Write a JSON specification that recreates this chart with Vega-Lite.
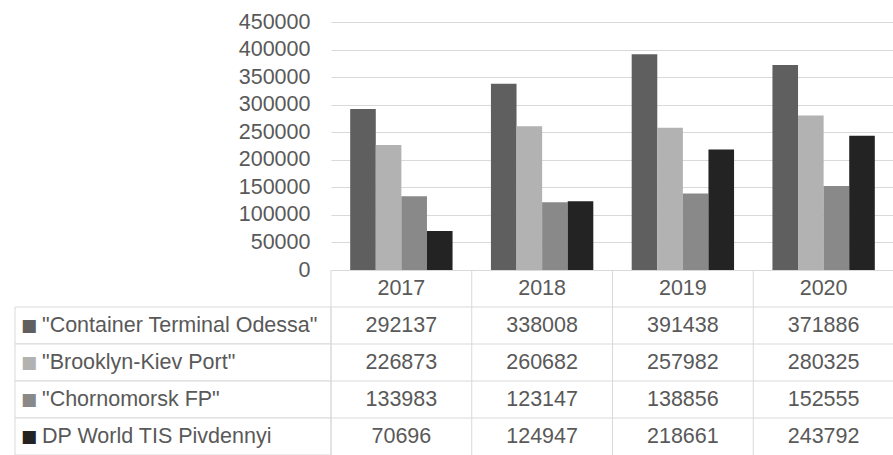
{
  "$schema": "https://vega.github.io/schema/vega-lite/v6.json",
  "padding": {"left": 14, "top": 11, "right": 0, "bottom": 0},
  "config": {"view": {"stroke": null}, "font": "Liberation Sans", "text": {"font": "Liberation Sans"}},
  "datasets": {
    "ports": [
      {"series": "\"Container Terminal Odessa\"", "year": "2017", "value": 292137},
      {"series": "\"Container Terminal Odessa\"", "year": "2018", "value": 338008},
      {"series": "\"Container Terminal Odessa\"", "year": "2019", "value": 391438},
      {"series": "\"Container Terminal Odessa\"", "year": "2020", "value": 371886},
      {"series": "\"Brooklyn-Kiev Port\"", "year": "2017", "value": 226873},
      {"series": "\"Brooklyn-Kiev Port\"", "year": "2018", "value": 260682},
      {"series": "\"Brooklyn-Kiev Port\"", "year": "2019", "value": 257982},
      {"series": "\"Brooklyn-Kiev Port\"", "year": "2020", "value": 280325},
      {"series": "\"Chornomorsk FP\"", "year": "2017", "value": 133983},
      {"series": "\"Chornomorsk FP\"", "year": "2018", "value": 123147},
      {"series": "\"Chornomorsk FP\"", "year": "2019", "value": 138856},
      {"series": "\"Chornomorsk FP\"", "year": "2020", "value": 152555},
      {"series": "DP World TIS Pivdennyi", "year": "2017", "value": 70696},
      {"series": "DP World TIS Pivdennyi", "year": "2018", "value": 124947},
      {"series": "DP World TIS Pivdennyi", "year": "2019", "value": 218661},
      {"series": "DP World TIS Pivdennyi", "year": "2020", "value": 243792}
    ]
  },
  "columns": 2,
  "spacing": 0,
  "bounds": "flush",
  "align": "each",
  "concat": [
    {"width": 316, "height": 248, "data": {"values": []}, "mark": "point"},
    {
      "width": 563, "height": 248,
      "data": {"name": "ports"},
      "mark": {"type": "bar"},
      "encoding": {
        "x": {"field": "year", "type": "nominal", "scale": {"paddingInner": 0, "paddingOuter": 0}, "axis": null},
        "xOffset": {"field": "series", "type": "nominal", "scale": {"domain": ["\"Container Terminal Odessa\"", "\"Brooklyn-Kiev Port\"", "\"Chornomorsk FP\"", "DP World TIS Pivdennyi"], "paddingInner": 0, "paddingOuter": 0.75}},
        "y": {"field": "value", "type": "quantitative", "scale": {"domain": [0, 450000]},
          "axis": {"values": [0, 50000, 100000, 150000, 200000, 250000, 300000, 350000, 400000, 450000], "format": "d", "domain": false, "ticks": false, "grid": true, "gridColor": "#d9d9d9", "gridWidth": 1, "labelFont": "Liberation Sans", "labelFontSize": 21.5, "labelColor": "#595959", "labelPadding": 21, "title": null}},
        "color": {"field": "series", "type": "nominal", "scale": {"domain": ["\"Container Terminal Odessa\"", "\"Brooklyn-Kiev Port\"", "\"Chornomorsk FP\"", "DP World TIS Pivdennyi"], "range": ["#5f5f5f", "#b2b2b2", "#898989", "#232323"]}, "legend": null}
      }
    },
    {
      "width": 316, "height": 185,
      "data": {"name": "ports"},
      "transform": [{"aggregate": [{"op": "count", "as": "n"}], "groupby": ["series"]}],
      "encoding": {
        "y": {"field": "series", "type": "nominal", "scale": {"domain": ["Year", "\"Container Terminal Odessa\"", "\"Brooklyn-Kiev Port\"", "\"Chornomorsk FP\"", "DP World TIS Pivdennyi"], "paddingInner": 0, "paddingOuter": 0}, "axis": null}
      },
      "layer": [
        {"mark": {"type": "rect", "fill": "white", "stroke": "#d9d9d9", "strokeWidth": 1}},
        {"mark": {"type": "text", "text": "■", "align": "left", "dx": -152, "fontSize": 17, "font": "DejaVu Sans"},
         "encoding": {"color": {"field": "series", "type": "nominal", "legend": null}}},
        {"mark": {"type": "text", "align": "left", "dx": -131, "fontSize": 21.5, "color": "#595959"},
         "encoding": {"text": {"field": "series", "type": "nominal"}}}
      ]
    },
    {
      "width": 563, "height": 185,
      "data": {"name": "ports"},
      "layer": [
        {
          "transform": [{"aggregate": [{"op": "count", "as": "n"}], "groupby": ["series"]}],
          "mark": {"type": "rule", "color": "#d9d9d9", "strokeWidth": 1},
          "encoding": {"y": {"field": "series", "type": "nominal", "bandPosition": 0, "scale": {"domain": ["Year", "\"Container Terminal Odessa\"", "\"Brooklyn-Kiev Port\"", "\"Chornomorsk FP\"", "DP World TIS Pivdennyi"], "paddingInner": 0, "paddingOuter": 0}, "axis": null}}
        },
        {
          "transform": [{"aggregate": [{"op": "count", "as": "n"}], "groupby": ["year"]}],
          "mark": {"type": "rule", "color": "#d9d9d9", "strokeWidth": 1},
          "encoding": {"x": {"field": "year", "type": "nominal", "bandPosition": 0, "scale": {"paddingInner": 0, "paddingOuter": 0}, "axis": null}}
        },
        {
          "transform": [{"aggregate": [{"op": "count", "as": "n"}], "groupby": ["year"]}],
          "mark": {"type": "text", "fontSize": 21.5, "color": "#595959"},
          "encoding": {
            "x": {"field": "year", "type": "nominal"},
            "y": {"datum": "Year", "type": "nominal"},
            "text": {"field": "year", "type": "nominal"}
          }
        },
        {
          "mark": {"type": "text", "fontSize": 21.5, "color": "#595959"},
          "encoding": {
            "x": {"field": "year", "type": "nominal"},
            "y": {"field": "series", "type": "nominal"},
            "text": {"field": "value", "type": "quantitative", "format": "d"}
          }
        }
      ]
    }
  ]
}
